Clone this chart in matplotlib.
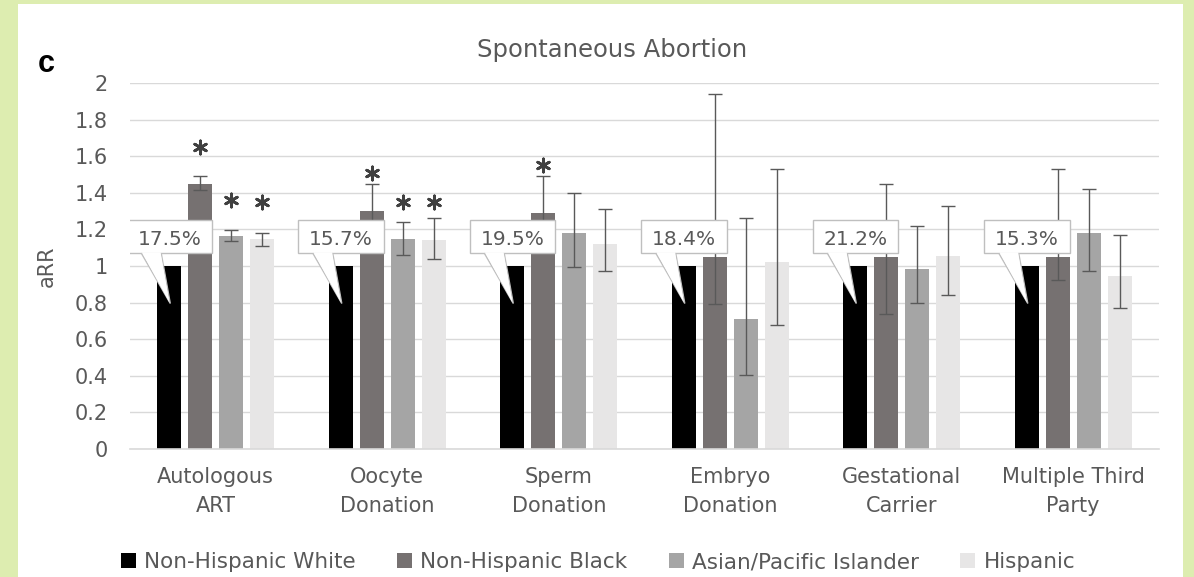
import numpy as np
import matplotlib
matplotlib.use("Agg")
import matplotlib.pyplot as plt
from matplotlib.patches import Patch, Rectangle, Polygon

# datos
categorias = ["Autologous\nART", "Oocyte\nDonation", "Sperm\nDonation",
              "Embryo\nDonation", "Gestational\nCarrier", "Multiple Third\nParty"]
grupos = ["Non-Hispanic White", "Non-Hispanic Black",
          "Asian/Pacific Islander", "Hispanic"]
colores = ["#000000", "#767171", "#a5a5a5", "#e7e6e6"]

white_arr = [1.0, 1.0, 1.0, 1.0, 1.0, 1.0]
black_arr = [1.45, 1.30, 1.29, 1.05, 1.05, 1.05]
asian_arr = [1.165, 1.145, 1.18, 0.71, 0.985, 1.18]
hisp_arr = [1.145, 1.14, 1.12, 1.02, 1.055, 0.945]

# intervalos (inferior, superior); None para la referencia
black_ci = [(1.415, 1.49), (1.17, 1.45), (1.10, 1.49), (0.79, 1.94), (0.74, 1.45), (0.925, 1.53)]
asian_ci = [(1.137, 1.196), (1.06, 1.24), (0.995, 1.40), (0.404, 1.26), (0.80, 1.22), (0.97, 1.42)]
hisp_ci = [(1.11, 1.18), (1.04, 1.26), (0.97, 1.31), (0.68, 1.53), (0.84, 1.33), (0.77, 1.17)]

porcentajes = ["17.5%", "15.7%", "19.5%", "18.4%", "21.2%", "15.3%"]

# asteriscos de significancia: (categoria, grupo, altura)
asteriscos = [(0, 1, 1.65), (0, 2, 1.36), (0, 3, 1.35),
              (1, 1, 1.51), (1, 2, 1.35), (1, 3, 1.35),
              (2, 1, 1.55)]

texto_gris = "#595959"
plt.rcParams['font.family'] = ['DejaVu Sans']

fig = plt.figure(figsize=(11.94, 5.77), dpi=100)
fig.patch.set_facecolor("#ddedb0")
# panel blanco
fig.patches.append(Rectangle((18 / 1194, 0), (1183 - 18) / 1194, (577 - 4) / 577,
                             transform=fig.transFigure, facecolor="white",
                             edgecolor="none", zorder=-5))

ax = fig.add_axes([130 / 1194, 128 / 577, 1029 / 1194, 366 / 577])
ax.set_facecolor("white")
ax.set_zorder(2)

x = np.arange(len(categorias))
ancho = 0.14
paso = 0.18
offsets = [-1.5 * paso, -0.5 * paso, 0.5 * paso, 1.5 * paso]
series = [white_arr, black_arr, asian_arr, hisp_arr]
ics = [None, black_ci, asian_ci, hisp_ci]

for i, (vals, col) in enumerate(zip(series, colores)):
    ax.bar(x + offsets[i], vals, width=ancho, color=col, zorder=2)
    if ics[i] is not None:
        ci = np.array(ics[i])
        v = np.array(vals)
        err = np.array([v - ci[:, 0], ci[:, 1] - v])
        ax.errorbar(x + offsets[i], v, yerr=err, fmt="none", ecolor=texto_gris,
                    elinewidth=1.0, capsize=5, capthick=1.0, zorder=3)

# asteriscos como marcador de 6 brazos
ax_x = [x[c] + offsets[g] for c, g, h in asteriscos]
ax_y = [h for c, g, h in asteriscos]
ax.scatter(ax_x, ax_y, marker=(6, 2, 0), s=90, linewidths=2.0,
           color="#404040", zorder=4)

# cajas con porcentaje (llamadas)
for i, txt in enumerate(porcentajes):
    cx = x[i]
    caja = Rectangle((cx - 0.52, 1.07), 0.50, 0.18, facecolor="white",
                     edgecolor="#bfbfbf", linewidth=1.0, zorder=5)
    ax.add_patch(caja)
    punta = Polygon([(cx - 0.434, 1.07), (cx - 0.265, 0.795), (cx - 0.318, 1.07)],
                    closed=False, facecolor="white", edgecolor="#bfbfbf",
                    linewidth=1.0, zorder=5)
    ax.add_patch(punta)
    tapa = Polygon([(cx - 0.43, 1.075), (cx - 0.27, 0.80), (cx - 0.322, 1.075)],
                   closed=True, facecolor="white", edgecolor="none", zorder=6)
    ax.add_patch(tapa)
    ax.text(cx - 0.27, 1.145, txt, ha="center", va="center", fontsize=14.5,
            color=texto_gris, zorder=7)

ax.set_xlim(-0.5, len(categorias) - 0.5)
ax.set_ylim(0, 2)
ax.set_yticks(np.arange(0, 2.01, 0.2))
ax.set_yticklabels(["0", "0.2", "0.4", "0.6", "0.8", "1", "1.2", "1.4", "1.6", "1.8", "2"])
ax.set_xticks(x)
ax.set_xticklabels(categorias, linespacing=1.55)
ax.tick_params(axis="both", length=0, labelsize=15, colors=texto_gris)
ax.tick_params(axis="y", pad=16)
ax.tick_params(axis="x", pad=13)
ax.grid(axis="y", color="#d9d9d9", linewidth=1.0, zorder=0)
ax.set_axisbelow(True)
for s in ["top", "right", "left"]:
    ax.spines[s].set_visible(False)
ax.spines["bottom"].set_color("#d9d9d9")
ax.spines["bottom"].set_linewidth(1.2)

ax.set_ylabel("aRR", fontsize=15, color=texto_gris)
ax.yaxis.set_label_coords(-73 / 1029, 0.5)

fig.text(612 / 1194, 1 - 50 / 577, "Spontaneous Abortion", ha="center",
         va="center", fontsize=17.5, color=texto_gris)
fig.text(46 / 1194, 1 - 64 / 577, "c", ha="center", va="center", fontsize=22,
         fontweight="bold", color="black", family="Liberation Sans")

handles = [Patch(facecolor=c, edgecolor="none") for c in colores]
fig.legend(handles, grupos, loc="center", bbox_to_anchor=(598 / 1194, 1 - 562 / 577),
           ncol=4, frameon=False, fontsize=15.5, labelcolor=texto_gris,
           handlelength=0.7, handleheight=0.7, handletextpad=0.4, columnspacing=1.9)

fig.savefig("out.png", dpi=100, facecolor=fig.get_facecolor())
